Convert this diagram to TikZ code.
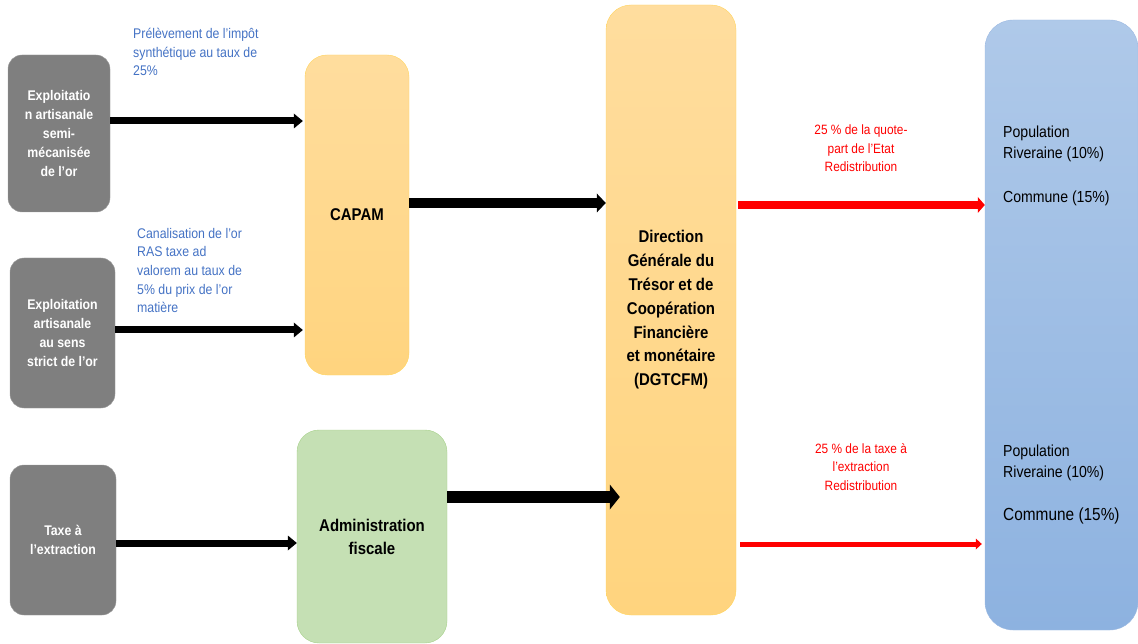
\documentclass[tikz,border=0pt]{standalone}
\usepackage{fontspec}
\setmainfont{Liberation Sans}[FakeStretch=0.88]
\usetikzlibrary{arrows.meta,positioning}

\definecolor{boxgrey}{HTML}{7F7F7F}
\definecolor{greyline}{HTML}{9C9C9C}
\definecolor{orangetop}{HTML}{FFDD9E}
\definecolor{orangebot}{HTML}{FFD47E}
\definecolor{orangeline}{HTML}{FFD45C}
\definecolor{greenfill}{HTML}{C5E0B4}
\definecolor{greenline}{HTML}{A6D08A}
\definecolor{bluetop}{HTML}{AFC9E9}
\definecolor{bluebot}{HTML}{8DB2E0}
\definecolor{blueline}{HTML}{9DBAE2}
\definecolor{labelblue}{HTML}{4472C4}

\tikzset{
  sourcebox/.style={draw=greyline, fill=boxgrey, rounded corners=14pt, text=white,
    font=\bfseries\fontsize{14}{19}\selectfont, align=center},
  orangebox/.style={draw=orangeline, top color=orangetop, bottom color=orangebot,
    rounded corners=22pt, font=\bfseries\fontsize{17}{23.8}\selectfont, align=center},
  greenbox/.style={draw=greenline, fill=greenfill, rounded corners=22pt,
    font=\bfseries\fontsize{17}{23}\selectfont, align=center},
  bluebox/.style={draw=blueline, top color=bluetop, bottom color=bluebot, rounded corners=28pt},
  ratelabel/.style={text=labelblue, font=\fontsize{14}{18.7}\selectfont, align=left, inner sep=0pt},
  redlabel/.style={text=red, font=\fontsize{13.5}{18.5}\selectfont, align=center, inner sep=0pt},
  sharelabel/.style={font=\fontsize{16}{21}\selectfont, align=left, inner sep=0pt},
  flow/.style={line width=7pt, -{Triangle[length=9pt,width=15pt,line width=0pt]}},
}

\begin{document}
\begin{tikzpicture}[x=1pt,y=-1pt]

\useasboundingbox (0,0) rectangle (1138,644);

\node[sourcebox, minimum width=102pt, minimum height=157pt] (semi) at (59,133.5)
  {Exploitatio\\n artisanale\\semi-\\mécanisée\\de l’or};
\node[sourcebox, minimum width=105pt, minimum height=150pt] (strict) at (62.5,333)
  {Exploitation\\artisanale\\au sens\\strict de l’or};
\node[sourcebox, minimum width=106pt, minimum height=150pt] (taxe) at (63,540)
  {Taxe à\\l’extraction};

\node[orangebox, minimum width=104pt, minimum height=320pt] (capam) at (357,215) {CAPAM};
\node[greenbox, minimum width=150pt, minimum height=213pt] (admin) at (372,536.5)
  {Administration\\fiscale};
\node[orangebox, rounded corners=25pt, minimum width=130pt, minimum height=610pt] (dg) at (671,310)
  {Direction\\Générale du\\Trésor et de\\Coopération\\Financière\\et monétaire\\(DGTCFM)};
\node[bluebox, minimum width=153pt, minimum height=610pt] (pop) at (1061.5,325) {};

\node[ratelabel, anchor=west] (impot) at (133,52)
  {Prélèvement de l’impôt\\synthétique au taux de\\25\%};
\node[ratelabel, anchor=west] (canal) at (137,270.5)
  {Canalisation de l’or\\RAS taxe ad\\valorem au taux de\\5\% du prix de l’or\\matière};

\node[redlabel] (quote) at (861,148.5) {25 \% de la quote-\\part de l’Etat\\Redistribution};
\node[redlabel] (extr) at (861,467) {25 \% de la taxe à\\l’extraction\\Redistribution};

\node[sharelabel, anchor=west] (share1) at (1003,165.5)
  {Population\\Riveraine (10\%)\\[23pt]Commune (15\%)};
\node[sharelabel, anchor=west] (share2) at (1003,485)
  {Population\\Riveraine (10\%)\\[22pt]{\fontsize{17.5}{21}\selectfont Commune (15\%)}};

\coordinate (l1) at (0,121);
\coordinate (l2) at (0,330);
\coordinate (l3) at (0,543);
\coordinate (l4) at (0,203);
\coordinate (l5) at (0,497);
\coordinate (l6) at (0,205);
\coordinate (l7) at (0,544);

\draw[flow] (semi.east |- l1) -- ([xshift=-2pt]capam.west |- l1);
\draw[flow] (strict.east |- l2) -- ([xshift=-2pt]capam.west |- l2);
\draw[flow] (taxe.east |- l3) -- (admin.west |- l3);
\draw[flow, line width=10pt, -{Triangle[length=9pt,width=19pt,line width=0pt]}]
  (capam.east |- l4) -- (dg.west |- l4);
\draw[flow, line width=12pt, -{Triangle[length=10pt,width=25pt,line width=0pt]}]
  (admin.east |- l5) -- ([xshift=14pt]dg.west |- l5);
\draw[red, line width=8pt, -{Triangle[length=7pt,width=16pt,line width=0pt]}]
  ([xshift=2pt]dg.east |- l6) -- (pop.west |- l6);
\draw[red, line width=5pt, -{Triangle[length=6pt,width=11pt,line width=0pt]}]
  ([xshift=4pt]dg.east |- l7) -- ([xshift=-3pt]pop.west |- l7);

\end{tikzpicture}
\end{document}
